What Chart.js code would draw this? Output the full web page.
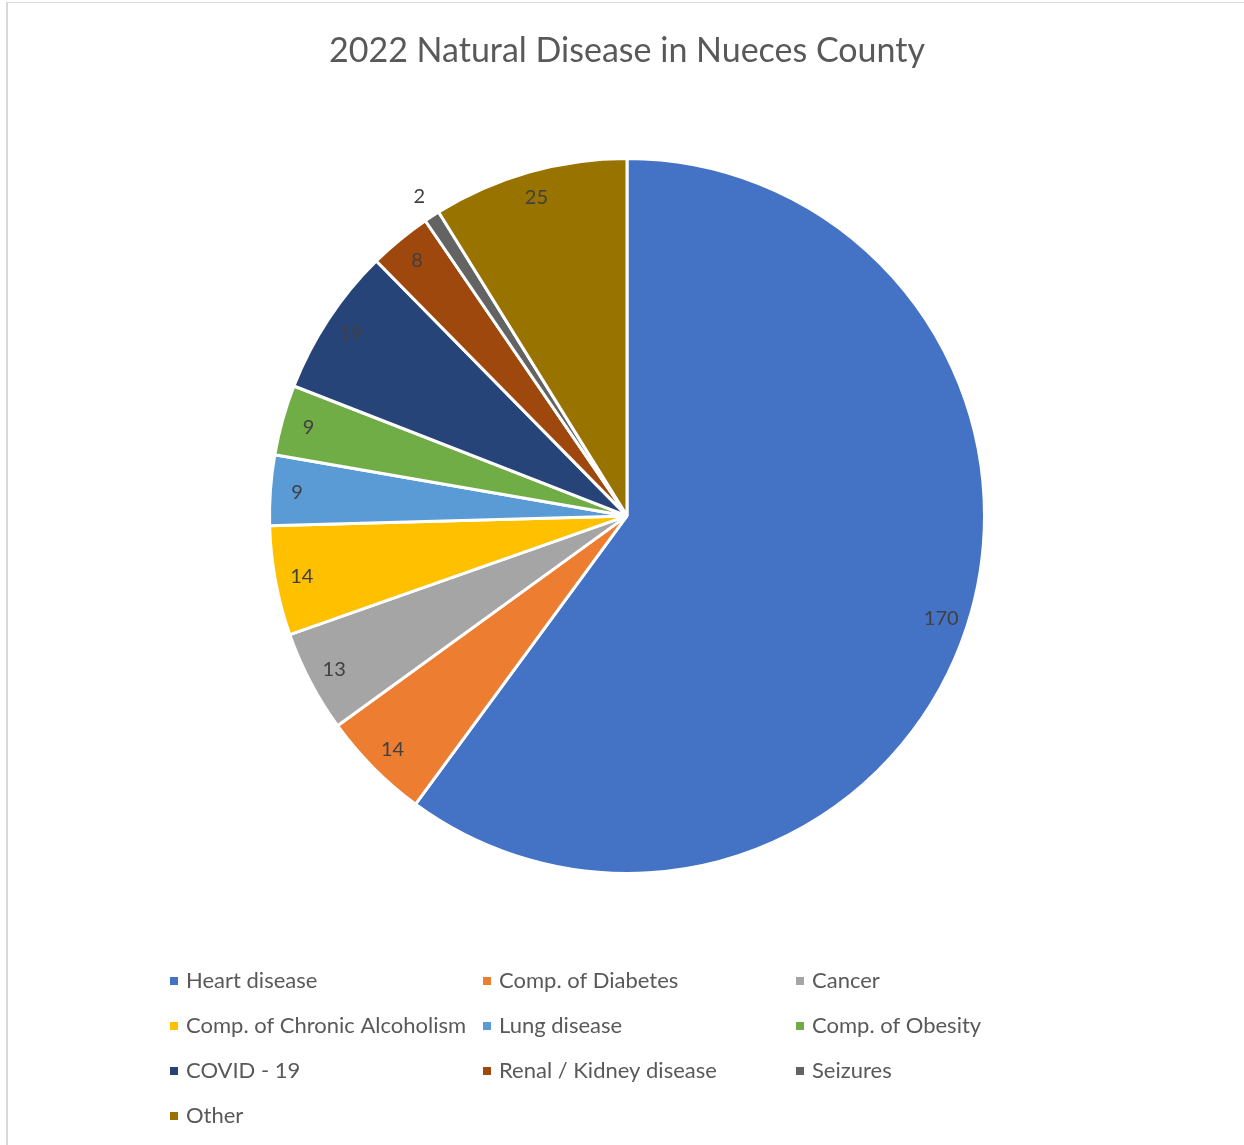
<!DOCTYPE html>
<html>
<head>
<meta charset="utf-8">
<script src="https://cdn.jsdelivr.net/npm/chart.js@4.4.0/dist/chart.umd.min.js"></script>
<style>
  html, body { margin: 0; padding: 0; background: #fff; overflow: hidden; }
  #wrap { position: relative; width: 1244px; height: 1145px; }
  #frame { position: absolute; left: 6px; top: 2px; width: 1300px; height: 1200px;
           border-left: 2px solid #d9d9d9; border-top: 1px solid #d9d9d9; box-sizing: border-box; }
  canvas { position: absolute; left: 0; top: 0; }
</style>
</head>
<body>
<div id="wrap">
  <div id="frame"></div>
  <canvas id="c" width="1244" height="1145"></canvas>
</div>
<script>
const categories = [
  "Heart disease", "Comp. of Diabetes", "Cancer",
  "Comp. of Chronic Alcoholism", "Lung disease", "Comp. of Obesity",
  "COVID - 19", "Renal / Kidney disease", "Seizures", "Other"
];
const deaths = [170, 14, 13, 14, 9, 9, 19, 8, 2, 25];
const sliceColors = [
  "#4472C4", "#ED7D31", "#A5A5A5", "#FFC000", "#5B9BD5",
  "#70AD47", "#264478", "#9E480E", "#636363", "#997300"
];
const chartTitle = "2022 Natural Disease in Nueces County";

const FONT = "Lato, 'Open Sans', sans-serif";

const sliceLabels = {
  id: "sliceLabels",
  afterDatasetsDraw(chart) {
    const ctx = chart.ctx;
    const meta = chart.getDatasetMeta(0);
    const data = chart.data.datasets[0].data;
    const total = data.reduce((a, b) => a + b, 0);
    ctx.save();
    ctx.font = "20px " + FONT;
    ctx.fillStyle = "#404040";
    ctx.textAlign = "center";
    ctx.textBaseline = "middle";
    meta.data.forEach((arc, i) => {
      const mid = (arc.startAngle + arc.endAngle) / 2;
      const frac = data[i] / total;
      const r = arc.outerRadius * (frac < 0.01 ? 1.065 : 0.925);
      ctx.fillText(String(data[i]), arc.x + Math.cos(mid) * r, arc.y + Math.sin(mid) * r);
    });
    ctx.restore();
  }
};

const gridLegend = {
  id: "gridLegend",
  afterDraw(chart) {
    const ctx = chart.ctx;
    const colX = [170, 483, 796];
    const rowY0 = 981, rowStep = 45;
    ctx.save();
    ctx.font = "22px " + FONT;
    ctx.textBaseline = "middle";
    ctx.textAlign = "left";
    chart.data.labels.forEach((lab, i) => {
      const x = colX[i % 3];
      const y = rowY0 + Math.floor(i / 3) * rowStep;
      ctx.fillStyle = chart.data.datasets[0].backgroundColor[i];
      ctx.fillRect(x, y - 4, 8, 8);
      ctx.fillStyle = "#595959";
      ctx.fillText(lab, x + 16, y);
    });
    ctx.restore();
  }
};

new Chart(document.getElementById("c"), {
  type: "pie",
  data: {
    labels: categories,
    datasets: [{
      data: deaths,
      backgroundColor: sliceColors,
      borderColor: "#ffffff",
      borderWidth: 3
    }]
  },
  options: {
    responsive: false,
    devicePixelRatio: 1,
    animation: false,
    layout: { padding: { left: 268, right: 258, top: 0, bottom: 270 } },
    plugins: {
      legend: { display: false },
      tooltip: { enabled: false },
      title: {
        display: true,
        text: chartTitle,
        color: "#595959",
        font: { family: FONT, size: 34, weight: "normal", lineHeight: 1.2 },
        padding: { top: 31, bottom: 85 }
      }
    }
  },
  plugins: [sliceLabels, gridLegend]
});
</script>
</body>
</html>
